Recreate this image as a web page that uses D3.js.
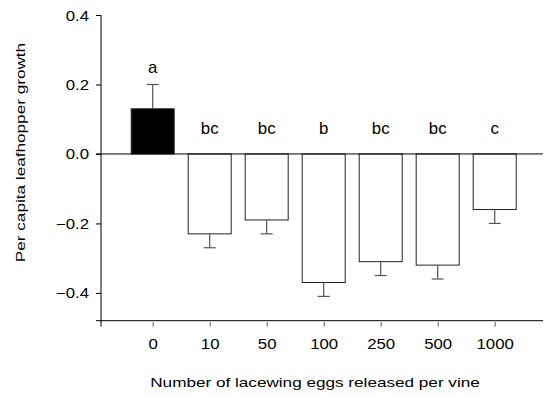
<!DOCTYPE html>
<html>
<head>
<meta charset="utf-8">
<script src="https://cdn.jsdelivr.net/npm/d3@7"></script>
<style>
  body { margin: 0; background: #fff; }
  svg { display: block; }
  text { font-family: "Liberation Sans", Arial, sans-serif; fill: #000; }
</style>
</head>
<body>
<svg width="544" height="397"></svg>
<script>
var categories = ['0', '10', '50', '100', '250', '500', '1000'];
var means = [0.13, -0.23, -0.19, -0.37, -0.31, -0.32, -0.16];
var errors = [0.07, 0.04, 0.04, 0.04, 0.04, 0.04, 0.04];
var letters = ['a', 'bc', 'bc', 'b', 'bc', 'bc', 'c'];
var yTicks = [-0.4, -0.2, 0.0, 0.2, 0.4];

var svg = d3.select('svg');
var axisLeftX = 101,
    axisRightX = 543,
    wide = 1.27; // glyphs in the source are drawn wider than Arial

var x = d3.scalePoint()
    .domain(categories)
    .range([152.7, 494.7]);
var y = d3.scaleLinear()
    .domain([-0.48, 0.4])
    .range([320.7, 15]);
var barW = 43;

// bars
svg.append('g').selectAll('rect')
    .data(means).enter().append('rect')
    .attr('x', function(d, i) { return x(categories[i]) - barW / 2; })
    .attr('y', function(d) { return y(Math.max(0, d)); })
    .attr('width', barW)
    .attr('height', function(d) { return Math.abs(y(d) - y(0)); })
    .attr('fill', function(d, i) { return i === 0 ? '#000' : '#fff'; })
    .attr('stroke', '#222')
    .attr('stroke-width', 1);

// error bars, pointing away from zero
var eb = svg.append('g').attr('stroke', '#555').attr('stroke-width', 1.2);
means.forEach(function(m, i) {
    var cx = x(categories[i]);
    var end = m > 0 ? m + errors[i] : m - errors[i];
    eb.append('line')
        .attr('x1', cx).attr('x2', cx)
        .attr('y1', y(m)).attr('y2', y(end));
    eb.append('line')
        .attr('x1', cx - 6).attr('x2', cx + 6)
        .attr('y1', y(end)).attr('y2', y(end));
});

// zero line
svg.append('line')
    .attr('x1', axisLeftX - 5).attr('x2', axisRightX)
    .attr('y1', y(0)).attr('y2', y(0))
    .attr('stroke', '#000');

// significance letters
svg.append('g').selectAll('text')
    .data(letters).enter().append('text')
    .attr('transform', function(d, i) {
        var m = means[i];
        var yy = m > 0 ? y(m + errors[i]) - 11.5 : y(0) - 19.5;
        return 'translate(' + x(categories[i]) + ',' + yy + ') scale(1.05,1)';
    })
    .attr('text-anchor', 'middle')
    .style('font-size', '16px')
    .text(function(d) { return d; });

// y axis
var yAxis = d3.axisLeft(y)
    .tickValues(yTicks)
    .tickSize(5)
    .tickSizeOuter(0)
    .tickPadding(7)
    .tickFormat(d3.format('.1f'));
var gy = svg.append('g')
    .attr('transform', 'translate(' + axisLeftX + ',0)')
    .call(yAxis);
gy.select('.domain').remove();
gy.selectAll('.tick line').attr('stroke', '#000');
gy.selectAll('.tick text')
    .attr('x', null).attr('dy', null)
    .attr('transform', 'translate(-12,5) scale(1.2,1)')
    .style('font-size', '14px');
svg.append('line')
    .attr('x1', axisLeftX).attr('x2', axisLeftX)
    .attr('y1', y(0.4)).attr('y2', y(-0.48) + 6)
    .attr('stroke', '#000');

// x axis
var xAxis = d3.axisBottom(x)
    .tickSize(6)
    .tickSizeOuter(0)
    .tickPadding(0);
var gx = svg.append('g')
    .attr('transform', 'translate(0,' + y(-0.48) + ')')
    .call(xAxis);
gx.select('.domain').remove();
gx.selectAll('.tick line').attr('y1', 1.5).attr('stroke', '#555');
gx.selectAll('.tick text')
    .attr('y', null).attr('dy', null)
    .attr('transform', 'translate(0,28) scale(1.2,1)')
    .style('font-size', '14px');
svg.append('line')
    .attr('x1', axisLeftX - 5).attr('x2', axisRightX)
    .attr('y1', y(-0.48)).attr('y2', y(-0.48))
    .attr('stroke', '#000');

// axis titles
svg.append('text')
    .attr('transform', 'translate(315,387) scale(' + wide + ',1)')
    .attr('text-anchor', 'middle')
    .style('font-size', '13.5px')
    .text('Number of lacewing eggs released per vine');
svg.append('text')
    .attr('transform', 'translate(25,152.5) rotate(-90) scale(1.32,1)')
    .attr('text-anchor', 'middle')
    .style('font-size', '13px')
    .text('Per capita leafhopper growth');
</script>
</body>
</html>
